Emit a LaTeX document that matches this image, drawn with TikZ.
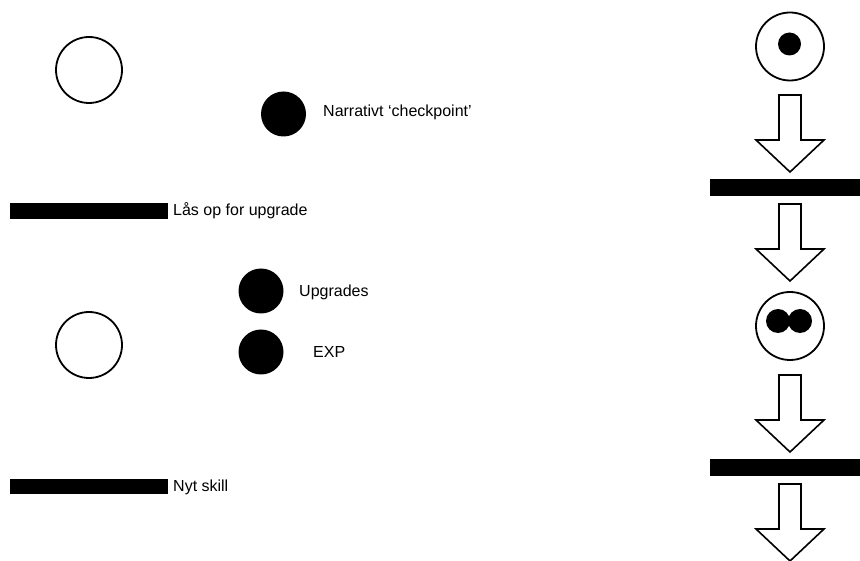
\documentclass[tikz,border=0pt]{standalone}
\usepackage{fontspec}
\setmainfont{Liberation Sans}
\begin{document}
\begin{tikzpicture}[x=1pt,y=-1pt,
  ring/.style={circle,draw=black,line width=1.8pt,fill=white,minimum size=66pt,inner sep=0pt},
  dot/.style={circle,fill=black,minimum size=#1,inner sep=0pt},
  dot/.default=45pt,
  bar/.style={rectangle,fill=black,inner sep=0pt,anchor=north west},
  label/.style={anchor=west,inner sep=0pt,font=\fontsize{16pt}{19pt}\selectfont},
  hollowarrow/.pic={
    \draw[line width=1.6pt,line join=miter,fill=white]
      (-11,0) -- (11,0) -- (11,45) -- (34,45) -- (0,77) -- (-34,45) -- (-11,45) -- cycle;
  }]
\useasboundingbox (0,0) rectangle (860,561);

% legend, left column
\node[ring] (progress) at (89,70) {};
\node[ring] (levelup) at (89,345) {};

\node[dot] (checkpoint) at (283.5,114) {};
\node[label] (checkpointtxt) at (323,112) {Narrativt ‘checkpoint’};

\node[bar,minimum width=158pt,minimum height=16pt] (unlockbar) at (10,203) {};
\node[label] (unlocktxt) at (173,211) {Lås op for upgrade};

\node[dot] (upgrades) at (261,291) {};
\node[label] (upgradestxt) at (299,292) {Upgrades};
\node[dot] (exp) at (261,352) {};
\node[label] (exptxt) at (313,352) {EXP};

\node[bar,minimum width=158pt,minimum height=15pt] (skillbar) at (10,479) {};
\node[label] (skilltxt) at (173,487) {Nyt skill};

% progression, right column
\node[ring,minimum size=68pt] (stage1) at (790,46.5) {};
\node[dot=23pt] (stage1dot) at (789.5,44) {};
\pic at (790,95) {hollowarrow};
\node[bar,minimum width=152pt,minimum height=17pt] (gate1) at (710,179) {};
\pic at (790,204) {hollowarrow};

\node[ring,minimum size=68pt] (stage2) at (790,326) {};
\node[dot=24pt] (stage2dotA) at (778,321) {};
\node[dot=24pt] (stage2dotB) at (800,321) {};
\pic at (790,375) {hollowarrow};
\node[bar,minimum width=152pt,minimum height=17pt] (gate2) at (710,459) {};
\pic at (790,484) {hollowarrow};
\end{tikzpicture}
\end{document}
